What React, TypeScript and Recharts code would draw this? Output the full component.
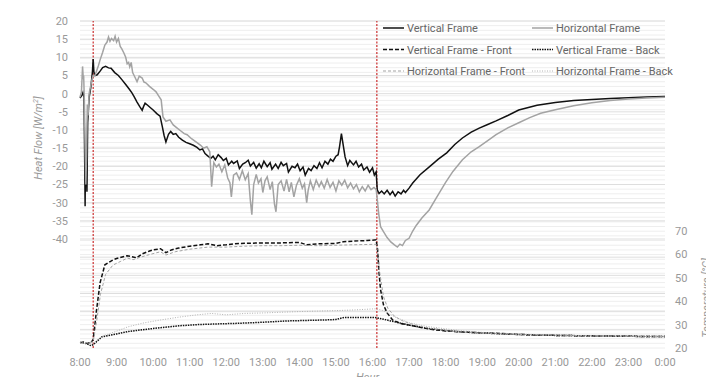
import React from 'react'
import { LineChart, Line, XAxis, YAxis, CartesianGrid, ReferenceLine } from 'recharts'

// heat flow [W/m²] vs hour of day, pairs of [hour, value]
const verticalFrame: [number, number][] = [
  [8.0, -1.2], [8.05, -0.5], [8.08, 0.3], [8.11, -1], [8.13, -20], [8.14, -31], [8.15, -18], [8.17, -20], [8.19, -27],
  [8.21, -8], [8.25, -1], [8.3, 2], [8.34, 6], [8.36, 9.5], [8.38, 6], [8.41, 5], [8.47, 5.2], [8.55, 6.2], [8.62, 7.2],
  [8.7, 7.5], [8.78, 7.1], [8.85, 7.0], [8.95, 5.8], [9.05, 5.0], [9.15, 3.8], [9.25, 2.5], [9.35, 1.2], [9.42, 0.2],
  [9.48, -0.8], [9.56, -2.3], [9.63, -3.5], [9.7, -4.6], [9.74, -3.5], [9.78, -2.6], [9.85, -3.2], [9.92, -3.8], [10.0, -4.5],
  [10.1, -5.5], [10.19, -6.2], [10.25, -9], [10.3, -11.5], [10.35, -13.3], [10.42, -11.2], [10.48, -10.4], [10.55, -11.2],
  [10.62, -11], [10.7, -12], [10.8, -12.8], [10.9, -13.4], [11.0, -13.8], [11.1, -14.2], [11.2, -14.8], [11.28, -15.5],
  [11.35, -15.2], [11.42, -16.5], [11.5, -17.2], [11.58, -17.8], [11.64, -17.2], [11.7, -18.2], [11.78, -16.8], [11.86, -17.6],
  [11.92, -18.4], [12.0, -17.8], [12.06, -19.6], [12.15, -18.6], [12.2, -19.2], [12.3, -18.5], [12.36, -20.6], [12.45, -19.4],
  [12.52, -19.0], [12.6, -18.3], [12.66, -19.9], [12.75, -18.9], [12.82, -20.5], [12.9, -19.3], [12.96, -20.4], [13.03, -18.6],
  [13.12, -20.1], [13.2, -19.0], [13.25, -20.8], [13.35, -19.4], [13.42, -20.6], [13.5, -18.9], [13.56, -19.8], [13.65, -19.2],
  [13.7, -21.6], [13.8, -20.0], [13.88, -20.4], [13.95, -19.4], [14.02, -21.2], [14.1, -20.2], [14.16, -22.4], [14.25, -20.6],
  [14.32, -21.2], [14.4, -19.8], [14.48, -20.6], [14.55, -19.0], [14.62, -20.4], [14.7, -18.6], [14.78, -19.4], [14.85, -18.0],
  [14.92, -18.6], [15.0, -17.2], [15.06, -16.8], [15.1, -14.5], [15.15, -11.0], [15.2, -14.2], [15.25, -17.4], [15.32, -19.8],
  [15.38, -18.4], [15.48, -19.6], [15.55, -18.6], [15.62, -20.2], [15.7, -19.4], [15.76, -21.0], [15.85, -20.2], [15.92, -21.6],
  [16.0, -20.4], [16.05, -22.4], [16.1, -21.5], [16.13, -26.5], [16.18, -27.5], [16.25, -26.8], [16.32, -27.6], [16.4, -26.6],
  [16.48, -27.8], [16.55, -26.9], [16.62, -28.2], [16.7, -27.0], [16.78, -27.6], [16.85, -26.6], [16.9, -27.2], [17.0, -26],
  [17.1, -24.6], [17.3, -22.3], [17.57, -20], [17.8, -18], [18.03, -16.3], [18.25, -14], [18.46, -12.2], [18.7, -10.6],
  [18.92, -9.5], [19.15, -8.5], [19.38, -7.5], [19.7, -6], [20.0, -4.5], [20.5, -3.2], [21.0, -2.4], [21.5, -1.9],
  [22.0, -1.6], [22.5, -1.3], [23.0, -1.1], [23.5, -0.9], [24.0, -0.8],
]

const horizontalFrame: [number, number][] = [
  [8.0, -1], [8.04, 0.5], [8.07, 7.5], [8.09, 4], [8.1, 5], [8.12, -2], [8.14, -15], [8.16, -25], [8.18, -17], [8.2, -3],
  [8.22, -6], [8.25, 0], [8.29, 2], [8.33, 4], [8.36, 5], [8.41, 5], [8.5, 7.6], [8.55, 9.3], [8.62, 11.4], [8.68, 13.4],
  [8.74, 14.2], [8.78, 15.6], [8.82, 14.4], [8.86, 15.2], [8.92, 14.6], [8.96, 15.8], [9.0, 14.2], [9.05, 15.2], [9.1, 13],
  [9.14, 12.4], [9.2, 11.2], [9.25, 10], [9.29, 8.2], [9.33, 8.6], [9.36, 7.4], [9.4, 8.6], [9.44, 5.8], [9.5, 4.6],
  [9.56, 3.3], [9.62, 4.8], [9.7, 4.3], [9.75, 3.2], [9.8, 3.0], [9.9, 2.0], [10.0, 1.2], [10.08, 0.5], [10.15, -0.6],
  [10.22, -1.7], [10.27, -6.4], [10.35, -7.6], [10.46, -7.2], [10.55, -8.6], [10.65, -9.4], [10.75, -10.2], [10.85, -11],
  [10.93, -11.3], [11.05, -12.4], [11.2, -13.5], [11.3, -14.2], [11.38, -15], [11.47, -14.6], [11.55, -16], [11.6, -25.6],
  [11.66, -19], [11.73, -20.2], [11.8, -19.4], [11.88, -21.5], [11.96, -19.6], [12.04, -23.2], [12.1, -24.5], [12.14, -28.4],
  [12.2, -22.4], [12.28, -21.8], [12.36, -23.6], [12.44, -21.2], [12.52, -23.7], [12.6, -22.0], [12.66, -29.5], [12.7, -33.3],
  [12.75, -25], [12.82, -22.2], [12.88, -24.6], [12.95, -23.4], [13.0, -27.2], [13.06, -24.0], [13.12, -22.9], [13.2, -26.4],
  [13.26, -24.2], [13.32, -30.5], [13.36, -32.5], [13.42, -25.0], [13.5, -24.0], [13.58, -26.8], [13.65, -23.6], [13.72, -27.0],
  [13.78, -24.4], [13.85, -28.4], [13.92, -25.2], [14.0, -23.4], [14.08, -26.0], [14.14, -24.8], [14.2, -30.0], [14.24, -26.6],
  [14.3, -24.0], [14.38, -26.4], [14.46, -23.8], [14.54, -25.6], [14.6, -24.2], [14.68, -26.0], [14.76, -23.6], [14.84, -25.8],
  [14.92, -24.4], [15.0, -26.8], [15.08, -24.0], [15.16, -25.2], [15.24, -23.8], [15.32, -25.9], [15.4, -24.6], [15.48, -26.2],
  [15.56, -25.0], [15.64, -27.0], [15.72, -25.6], [15.8, -26.8], [15.88, -25.2], [15.96, -26.4], [16.04, -25.8], [16.1, -26.4],
  [16.13, -29], [16.17, -33], [16.22, -36.6], [16.3, -38], [16.4, -39.6], [16.5, -40.8], [16.6, -41.6], [16.68, -42.2],
  [16.75, -41.4], [16.82, -41.8], [16.9, -40.4], [17.0, -39.8], [17.1, -37.8], [17.2, -36.2], [17.35, -34.2], [17.55, -32],
  [17.75, -28.6], [18.0, -24.4], [18.2, -21.4], [18.46, -18.2], [18.7, -16.0], [18.92, -14.6], [19.2, -12.6], [19.38, -11.3],
  [19.7, -9.4], [20.0, -8.0], [20.3, -6.6], [20.6, -5.4], [21.0, -4.4], [21.5, -3.3], [22.0, -2.5], [22.5, -1.9],
  [23.0, -1.5], [23.5, -1.2], [24.0, -1.0],
]

// surface temperatures [°C]
const verticalFront: [number, number][] = [
  [8.0, 22.3], [8.1, 22.6], [8.2, 22.0], [8.3, 22.4], [8.36, 23.5], [8.45, 36], [8.55, 48], [8.68, 55.6], [8.9, 57.7],
  [9.0, 58.3], [9.29, 59.5], [9.45, 59], [9.55, 58.6], [9.7, 60.3], [9.9, 61.5], [10.0, 62], [10.2, 62.5], [10.35, 60.8],
  [10.5, 62.0], [10.7, 62.8], [11.0, 63.6], [11.3, 64.2], [11.5, 64.6], [11.75, 63.8], [12.0, 64.2], [12.2, 64.6],
  [12.5, 64.8], [13.0, 65], [13.5, 65], [14.0, 65.2], [14.2, 64.2], [14.5, 64.6], [15.0, 64.8], [15.2, 65.5], [15.5, 65.8],
  [15.85, 66], [16.1, 66.3], [16.14, 62], [16.18, 52], [16.22, 45], [16.3, 38.5], [16.4, 35], [16.55, 32], [16.75, 30.6],
  [17.0, 29.8], [17.3, 28.9], [17.6, 28.0], [18.0, 27.3], [18.5, 26.8], [19.0, 26.5], [19.5, 26.2], [20.0, 25.8],
  [21.0, 25.4], [22.0, 25.2], [23.0, 25.0], [24.0, 24.9],
]

const verticalBack: [number, number][] = [
  [8.0, 22.4], [8.15, 22.0], [8.3, 21.0], [8.36, 21.4], [8.6, 24.8], [9.0, 26.0], [9.3, 27.0], [9.7, 27.8], [10.2, 28.7],
  [10.7, 29.5], [11.2, 30.0], [11.7, 30.3], [12.2, 30.5], [12.7, 30.8], [13.2, 31.2], [13.7, 31.6], [14.2, 31.8],
  [14.7, 32.0], [15.0, 32.2], [15.2, 33.0], [15.6, 33.1], [16.1, 33.0], [16.5, 31.6], [17.0, 29.8], [17.5, 28.4],
  [18.0, 27.5], [18.5, 26.8], [19.0, 26.4], [20.0, 25.8], [21.0, 25.4], [22.0, 25.2], [23.0, 25.0], [24.0, 24.9],
]

const horizontalFront: [number, number][] = [
  [8.0, 22.0], [8.36, 22.6], [8.46, 32], [8.56, 43], [8.7, 51.5], [8.9, 55.5], [9.1, 57], [9.3, 58.5], [9.45, 57.8],
  [9.6, 58.6], [9.9, 60], [10.2, 61.2], [10.35, 59.8], [10.6, 61.2], [11.0, 62.3], [11.5, 63.2], [12.0, 63.2], [12.5, 63.6],
  [13.0, 63.8], [13.5, 63.8], [14.0, 64.0], [14.5, 63.8], [15.0, 64.0], [15.5, 64.2], [16.1, 64.4], [16.15, 60], [16.2, 52],
  [16.3, 42], [16.42, 37], [16.6, 33.6], [16.8, 31.8], [17.0, 30.6], [17.3, 29.3], [17.6, 28.3], [18.0, 27.5], [18.5, 26.8],
  [19.0, 26.4], [20.0, 25.8], [21.0, 25.5], [22.0, 25.2], [23.0, 25.0], [24.0, 24.9],
]

const horizontalBack: [number, number][] = [
  [8.0, 22.2], [8.36, 22.0], [8.6, 25], [9.0, 27.2], [9.3, 29], [9.7, 30.6], [10.2, 32], [10.7, 33.2], [11.2, 34.2],
  [11.6, 34.8], [12.0, 34.2], [12.5, 34.8], [13.0, 35.0], [13.5, 35.3], [14.0, 35.6], [14.5, 35.8], [15.0, 36.0],
  [15.5, 36.3], [16.1, 36.8], [16.3, 36], [16.6, 33.4], [17.0, 30.8], [17.5, 29.2], [18.0, 28.2], [18.5, 27.3],
  [19.0, 26.7], [20.0, 26.0], [21.0, 25.5], [22.0, 25.2], [23.0, 25.0], [24.0, 24.9],
]

const hourTicks = [8, 9, 10, 11, 12, 13, 14, 15, 16, 17, 18, 19, 20, 21, 22, 23, 24]
const fluxTicks = [20, 15, 10, 5, 0, -5, -10, -15, -20, -25, -30, -35, -40]
const tempTicks = [20, 30, 40, 50, 60, 70]
const eventHours = [8.36, 16.12] // red markers

const fluxGrid = [20, 15, 10, 5, 0, -5, -10, -15, -20, -25, -30, -35, -40, -45, -50, -55, -60, -65]
const tempGrid = [
  20, 22, 24, 26, 28, 30, 32, 34, 36, 38, 40, 42, 44, 46, 48, 50, 52, 54, 56, 58, 60, 62, 64, 66, 68, 70,
  72, 74, 76, 78, 80, 82, 84, 86, 88, 90, 92, 94, 96, 98, 100, 102, 104, 106, 108, 110, 112, 114, 116, 118, 120,
  122, 124, 126, 128, 130, 132, 134, 136, 138, 140, 142, 144, 146, 148, 150, 152, 154, 156, 158, 160,
]

const rows = (pairs: [number, number][]) => pairs.map(([t, v]) => ({ t, v }))

const FONT = 'Roboto, "Liberation Sans", sans-serif'
const TICK = { fontSize: 11, fill: '#999', fontFamily: FONT }

const series = [
  { name: 'Vertical Frame', data: verticalFrame, axis: 'flux', color: '#111', width: 1.5, dash: undefined },
  { name: 'Horizontal Frame', data: horizontalFrame, axis: 'flux', color: '#a3a3a3', width: 1.5, dash: undefined },
  { name: 'Vertical Frame - Front', data: verticalFront, axis: 'temp', color: '#111', width: 1.5, dash: '4 2' },
  { name: 'Vertical Frame - Back', data: verticalBack, axis: 'temp', color: '#111', width: 1.5, dash: '1.5 1' },
  { name: 'Horizontal Frame - Front', data: horizontalFront, axis: 'temp', color: '#a3a3a3', width: 1, dash: '3 2' },
  { name: 'Horizontal Frame - Back', data: horizontalBack, axis: 'temp', color: '#b3b3b3', width: 1, dash: '1 1.5' },
]

// two columns, filled row by row, drawn over the plot
const LegendBox = () => (
  <svg width={300} height={70} style={{ position: 'absolute', left: 380, top: 18, pointerEvents: 'none' }}>
    {series.map((s, i) => {
      const col = i % 2
      const row = Math.floor(i / 2)
      const x0 = col === 0 ? 3 : 152
      const y = 10 + row * 21.5
      return (
        <g key={s.name}>
          <line x1={x0} x2={x0 + 21} y1={y} y2={y} stroke={s.color} strokeWidth={s.width} strokeDasharray={s.dash} />
          <text x={x0 + 24} y={y + 4} fontSize={11} fill="#666" fontFamily={FONT}>{s.name}</text>
        </g>
      )
    })}
  </svg>
)

const FluxLabel = ({ viewBox }: any) => {
  const x = viewBox.x + 32
  const y = viewBox.y + 117
  return (
    <text x={x} y={y} transform={`rotate(-90, ${x}, ${y})`} textAnchor="middle" fontSize={11}
      fontStyle="italic" fill="#999" fontFamily={FONT}>
      Heat Flow [W/m<tspan dy={-4} fontSize={7}>2</tspan><tspan dy={4}>]</tspan>
    </text>
  )
}

const TempLabel = ({ viewBox }: any) => {
  const x = viewBox.x + viewBox.width + 4
  const y = viewBox.y + 277
  return (
    <text x={x} y={y} transform={`rotate(-90, ${x}, ${y})`} textAnchor="middle" fontSize={11}
      fontStyle="italic" fill="#999" fontFamily={FONT}>
      Temperature [°C]
    </text>
  )
}

const HourLabel = ({ viewBox }: any) => (
  <text x={viewBox.x + viewBox.width / 2 - 5} y={viewBox.y + 33} textAnchor="middle" fontSize={11}
    fontStyle="italic" fill="#999" fontFamily={FONT}>
    Hour
  </text>
)

export default function App() {
  return (
    <div style={{ position: 'absolute', left: 0, top: 0, width: 706, height: 377, background: '#fff', overflow: 'hidden' }}>
      <LineChart width={706} height={377} margin={{ top: 21, right: 0, bottom: 0, left: 10 }}>
        <CartesianGrid yAxisId="temp" vertical={false} horizontalValues={tempGrid} stroke="#eeeeee" />
        <CartesianGrid yAxisId="flux" vertical={false} horizontalValues={fluxGrid} stroke="#dedede" />
        <XAxis
          dataKey="t" type="number" domain={[8, 24]} ticks={hourTicks} allowDuplicatedCategory={false}
          tickFormatter={h => `${h % 24}:00`} tick={TICK} axisLine={false} tickLine={false}
          tickSize={0} tickMargin={10} height={29} label={<HourLabel />}
        />
        <YAxis
          yAxisId="flux" orientation="left" domain={[-70, 20]} ticks={fluxTicks} interval={0}
          tick={TICK} axisLine={false} tickLine={false} tickSize={0} tickMargin={12} width={70}
          label={<FluxLabel />}
        />
        <YAxis
          yAxisId="temp" orientation="right" domain={[20, 160]} ticks={tempTicks} interval={0}
          tick={TICK} axisLine={false} tickLine={false} tickSize={0} tickMargin={10} width={41}
          label={<TempLabel />}
        />
        {eventHours.map(h => (
          <ReferenceLine key={h} x={h} yAxisId="flux" stroke="#c00000" strokeDasharray="2 1.5" strokeWidth={1} />
        ))}
        {series.map(s => (
          <Line
            key={s.name} yAxisId={s.axis} data={rows(s.data)} dataKey="v" name={s.name}
            stroke={s.color} strokeWidth={s.width} strokeDasharray={s.dash}
            dot={false} activeDot={false} isAnimationActive={false} type="linear"
          />
        ))}
      </LineChart>
      <LegendBox />
    </div>
  )
}
